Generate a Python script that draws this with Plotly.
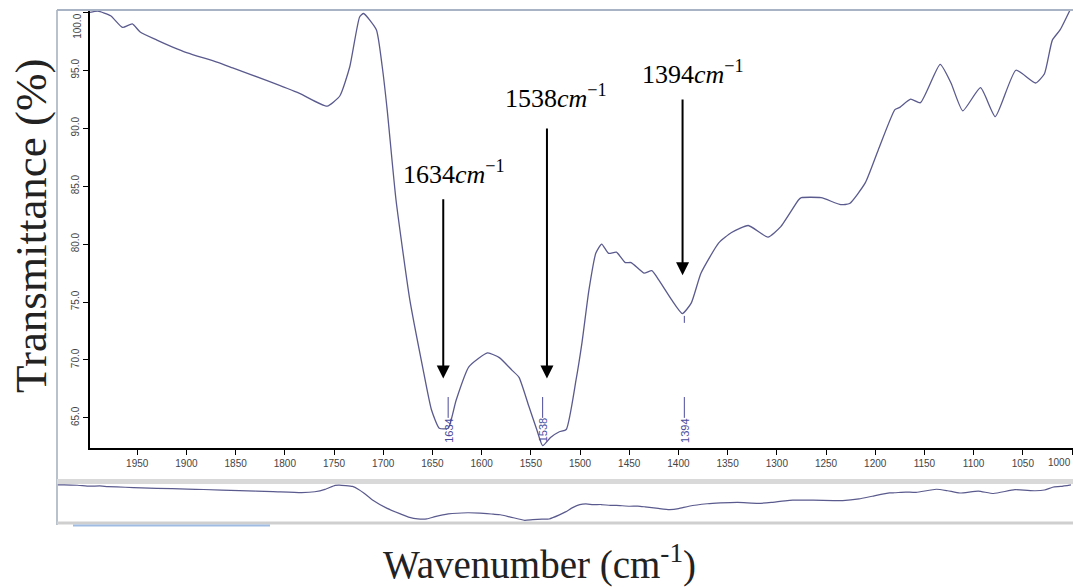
import plotly.graph_objects as go

# ---- data ----
wavenumber = [1998, 1990, 1977, 1965, 1955, 1947, 1930, 1914, 1899, 1869, 1853, 1818,
              1785, 1757, 1744, 1734, 1724, 1720, 1707, 1701, 1696, 1687, 1673, 1660,
              1651, 1643, 1634, 1626, 1613, 1594, 1582, 1569, 1562, 1552, 1544, 1538,
              1530, 1521, 1514, 1504, 1498, 1491, 1484, 1478, 1471, 1463, 1454, 1448,
              1435, 1427, 1420, 1407, 1396, 1387, 1377, 1359, 1346, 1329, 1309, 1296,
              1278, 1275, 1255, 1235, 1226, 1210, 1197, 1180, 1175, 1164, 1154, 1134,
              1123, 1111, 1093, 1078, 1057, 1037, 1028, 1020, 1012, 1002]
transmittance = [100.0, 100.1, 99.7, 98.7, 99.0, 98.3, 97.6, 97.0, 96.5, 95.7, 95.2, 94.1,
                 93.0, 91.9, 92.8, 95.3, 99.6, 99.9, 98.5, 95.3, 91.6, 83.8, 75.2, 69.4,
                 65.7, 64.1, 64.1, 66.5, 69.4, 70.6, 70.2, 69.1, 68.5, 66.0, 64.0, 62.6,
                 63.3, 63.8, 64.0, 68.3, 71.5, 76.0, 79.2, 80.0, 79.2, 79.3, 78.4, 78.4,
                 77.5, 77.7, 76.9, 75.2, 74.0, 74.9, 77.5, 80.1, 81.0, 81.6, 80.6, 81.5,
                 83.8, 84.0, 84.0, 83.4, 83.5, 85.3, 88.1, 91.6, 91.8, 92.5, 92.2, 95.5,
                 93.9, 91.5, 93.5, 91.0, 95.0, 93.9, 94.7, 97.6, 98.5, 100.2]

peaks = [1634, 1538, 1394]
peak_labels = ["1634", "1538", "1394"]
x_ticks = list(range(1950, 999, -50))
x_tick_text = [str(v) for v in x_ticks]
y_ticks = [65, 70, 75, 80, 85, 90, 95, 100]
y_tick_text = [f"{v:.1f}" for v in y_ticks]

LINE = "#5a5a8e"
PEAKBLUE = "#4b4b9c"
SERIF = "Liberation Serif, Times New Roman, serif"
SANS = "Liberation Sans, Arial, sans-serif"
TICKFONT = dict(family=SANS, size=10, color="#444444")

fig = go.Figure()
fig.add_trace(go.Scatter(x=wavenumber, y=transmittance, mode="lines",
                         line=dict(color=LINE, width=1.3, shape="spline", smoothing=0.5),
                         xaxis="x", yaxis="y", showlegend=False, hoverinfo="skip"))
fig.add_trace(go.Scatter(x=wavenumber, y=transmittance, mode="lines",
                         line=dict(color=LINE, width=1.2, shape="spline", smoothing=0.5),
                         xaxis="x2", yaxis="y2", showlegend=False, hoverinfo="skip"))

W, H = 1073, 587
L, R, T, B = 58, 0, 10, 62
pw, ph = W - L - R, H - T - B


def px(xp):
    return (xp - L) / pw


def py(yp):
    return (H - B - yp) / ph


annotations = []
shapes = []

# main annotation texts with arrows
label_pos = [(1628, 86.2), (1524.5, 92.7), (1385, 94.8)]
arrow_x = [1639, 1533.6, 1395.8]
arrow_tip = [68.4, 68.4, 77.3]
arrow_tail = [84.0, 90.1, 92.6]
for lab, (lx, ly), ax_, tip, tail in zip(peak_labels, label_pos, arrow_x, arrow_tip, arrow_tail):
    annotations.append(dict(x=lx, y=ly, xref="x", yref="y", showarrow=False,
                            xanchor="center", yanchor="middle",
                            text=f"{lab}<i>cm</i><sup>−1</sup>",
                            font=dict(family=SERIF, size=26, color="black")))
    annotations.append(dict(x=ax_, y=tip, ax=ax_, ay=tail, xref="x", yref="y",
                            axref="x", ayref="y", text="", showarrow=True,
                            arrowhead=2, arrowsize=1.3, arrowwidth=2, arrowcolor="black",
                            standoff=0))

# small blue peak labels
for p, lab in zip(peaks, peak_labels):
    annotations.append(dict(x=p, y=63.9, xref="x", yref="y", showarrow=False,
                            xanchor="center", yanchor="middle",
                            text=lab, textangle=-90,
                            font=dict(family=SANS, size=11, color=PEAKBLUE)))
    shapes.append(dict(type="line", xref="x", yref="y", x0=p, x1=p, y0=65.0, y1=66.8,
                       line=dict(color=PEAKBLUE, width=1)))
shapes.append(dict(type="line", xref="x", yref="y", x0=1394, x1=1394, y0=73.2, y1=73.8,
                   line=dict(color=PEAKBLUE, width=1)))

# edge tick labels kept inside the frame (as in the reference)
annotations.append(dict(x=px(78), y=100, xref="paper", yref="y", showarrow=False,
                        xanchor="center", yanchor="top", yshift=0,
                        text=y_tick_text[-1], textangle=-90, font=TICKFONT))
annotations.append(dict(x=1, y=py(455), xref="paper", yref="paper", showarrow=False,
                        xanchor="right", yanchor="top", text="1000", font=TICKFONT))

# axis titles
annotations.append(dict(x=px(31), y=py(226), xref="paper", yref="paper", showarrow=False,
                        xanchor="center", yanchor="middle",
                        text="Transmittance (%)", textangle=-90,
                        font=dict(family=SERIF, size=45, color="#222222")))
annotations.append(dict(x=px(539), y=py(562), xref="paper", yref="paper", showarrow=False,
                        xanchor="center", yanchor="middle",
                        text="Wavenumber (cm<sup>-1</sup>)",
                        font=dict(family=SERIF, size=39, color="#222222")))

# frame decorations
shapes += [
    dict(type="line", xref="paper", yref="paper", x0=px(57), x1=px(57), y0=py(525), y1=py(10),
         line=dict(color="#b9c1cd", width=2)),
    dict(type="line", xref="paper", yref="paper", x0=px(57), x1=1, y0=py(10), y1=py(10),
         line=dict(color="#a9b3c6", width=2)),
    dict(type="rect", xref="paper", yref="paper", x0=px(57), x1=1, y0=py(484), y1=py(479),
         fillcolor="#d9d9d9", line=dict(width=0)),
    dict(type="line", xref="paper", yref="paper", x0=px(57), x1=1, y0=py(523), y1=py(523),
         line=dict(color="#cfcfcf", width=3)),
    dict(type="line", xref="paper", yref="paper", x0=px(73), x1=px(270), y0=py(525.5), y1=py(525.5),
         line=dict(color="#9fbbe3", width=2)),
]

fig.update_layout(
    width=W, height=H,
    margin=dict(l=L, r=R, t=T, b=B, pad=0),
    paper_bgcolor="white", plot_bgcolor="white",
    showlegend=False,
    xaxis=dict(domain=[px(90), 1], range=[1998, 999], tickvals=x_ticks + [1000],
               ticktext=x_tick_text + [""], ticks="outside", ticklen=5,
               tickcolor="black", showline=True, linecolor="black", linewidth=2,
               showgrid=False, zeroline=False, anchor="y", tickfont=TICKFONT),
    yaxis=dict(domain=[py(448), 1], range=[62.4, 100.2], tickvals=y_ticks,
               ticktext=y_tick_text[:-1] + [""], ticks="outside", ticklen=5, tickcolor="black",
               showline=True, linecolor="black", linewidth=2, showgrid=False,
               zeroline=False, anchor="x", tickangle=-90, tickfont=TICKFONT),
    xaxis2=dict(domain=[0, 1], range=[1996, 1000], showticklabels=False, ticks="",
                showgrid=False, zeroline=False, showline=False, anchor="y2"),
    yaxis2=dict(domain=[py(522), py(483)], range=[60.8, 102.1], showticklabels=False,
                ticks="", showgrid=False, zeroline=False, showline=False, anchor="x2"),
    annotations=annotations,
    shapes=shapes,
)

fig.write_html("out.html", config={"displayModeBar": False},
               post_script="document.body.style.margin='0px';document.body.style.overflow='hidden';")
